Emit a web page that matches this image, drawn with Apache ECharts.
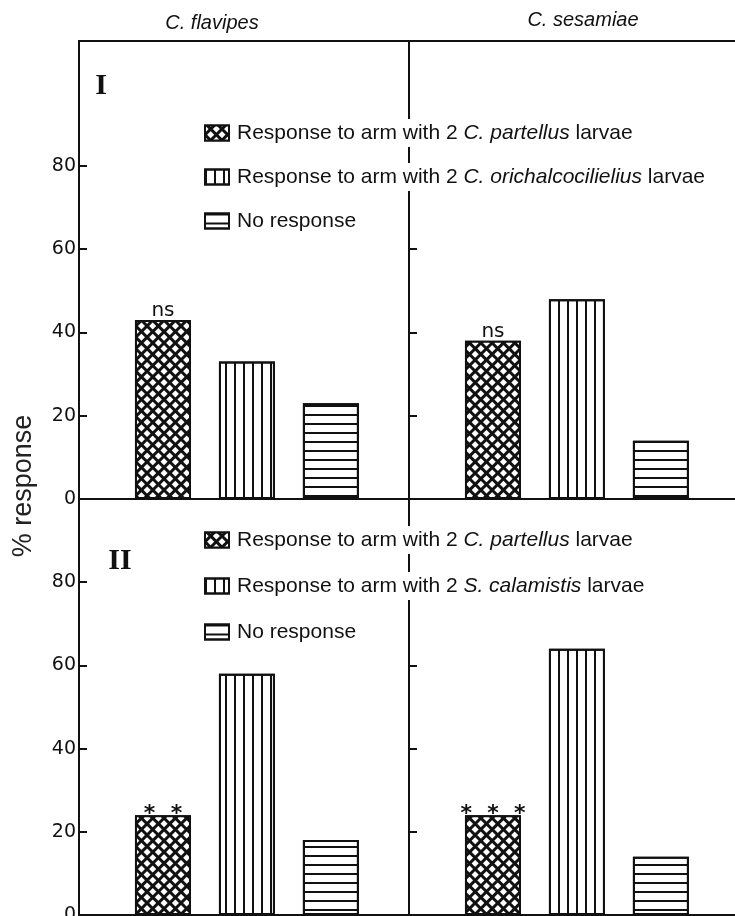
<!DOCTYPE html>
<html>
<head>
<meta charset="utf-8">
<script src="https://cdn.jsdelivr.net/npm/echarts@6/dist/echarts.min.js"></script>
<style>
  html, body { margin: 0; padding: 0; background: #fff; }
  #chart { width: 735px; height: 916px; }
</style>
</head>
<body>
<div id="chart"></div>
<script>
// Parasitoid species (columns) and olfactometer experiments (rows)
const parasitoids = ['C. flavipes', 'C. sesamiae'];
const experiments = ['I', 'II'];

// Bar slot along each panel's horizontal axis
const barSlots = [1, 2, 3];

// % response, indexed [experiment][parasitoid]
const partellusPct   = [[43, 38], [24, 24]];
const alternativePct = [[33, 48], [58, 64]];
const noResponsePct  = [[23, 14], [18, 14]];

// Significance marks drawn above the C. partellus bars
const significance = [['ns', 'ns'], ['*  *', '*  *  *']];

// Legend entries
const namePartellus = 'Response to arm with 2 C. partellus larvae';
const nameAlternative = [
  'Response to arm with 2 C. orichalcocilielius larvae',
  'Response to arm with 2 S. calamistis larvae'
];
const nameNone = 'No response';

// Value axis ticks and ranges per experiment
const yTicks = [0, 20, 40, 60, 80];
const yMax = [110, 100];

const INK = '#111';
const SANS = '"Liberation Sans", Arial, sans-serif';

// Fill patterns
const crossHatch = {
  symbol: 'rect', symbolSize: 1, color: '#fff',
  dashArrayX: [4.6, 2.4], dashArrayY: [4.6, 2.4], rotation: Math.PI / 4
};
const verticalLines = {
  symbol: 'rect', symbolSize: 1, color: INK,
  dashArrayX: [1.6, 6.4], dashArrayY: [8, 0], rotation: 0
};
const horizontalLines = {
  symbol: 'rect', symbolSize: 1, color: INK,
  dashArrayX: [8, 0], dashArrayY: [1.6, 6.1], rotation: 0
};

const panelTop = [41, 499];
const panelHeight = [458, 416];
const panelLeft = [79, 409];
const panelWidth = 330;

const grids = [], xAxes = [], yAxes = [], series = [];

experiments.forEach((exp, r) => {
  parasitoids.forEach((sp, c) => {
    const g = grids.length;
    grids.push({
      left: panelLeft[c], top: panelTop[r], width: panelWidth, height: panelHeight[r],
      outerBoundsMode: 'none', containLabel: false,
      show: true, borderColor: INK, borderWidth: 2, backgroundColor: 'transparent'
    });
    xAxes.push({ gridIndex: g, type: 'value', min: 0, max: 3.93, show: false });
    yAxes.push({
      gridIndex: g, type: 'value', min: 0, max: yMax[r], interval: 20,
      axisLine: { show: false },
      splitLine: { show: false },
      axisTick: {
        show: true, inside: true, length: 8, customValues: yTicks,
        lineStyle: { color: INK, width: 2 }
      },
      axisLabel: {
        show: c === 0, customValues: yTicks, margin: 3,
        color: INK, fontSize: 19, fontFamily: '"DejaVu Sans", sans-serif'
      }
    });
    const common = {
      type: 'bar', xAxisIndex: g, yAxisIndex: g, barWidth: 56, barGap: '-100%'
    };
    series.push(Object.assign({}, common, {
      name: namePartellus,
      itemStyle: { color: INK, borderColor: INK, borderWidth: 2, decal: crossHatch },
      label: {
        show: true, position: 'top', distance: r === 0 ? -1 : -10,
        formatter: significance[r][c], color: INK,
        fontSize: r === 0 ? 20 : 22, fontWeight: r === 0 ? 'normal' : 'bold',
        fontFamily: '"DejaVu Sans", sans-serif'
      },
      data: [[barSlots[0], partellusPct[r][c]]]
    }));
    series.push(Object.assign({}, common, {
      name: nameAlternative[r],
      itemStyle: { color: '#fff', borderColor: INK, borderWidth: 2, decal: verticalLines },
      data: [[barSlots[1], alternativePct[r][c]]]
    }));
    series.push(Object.assign({}, common, {
      name: nameNone,
      itemStyle: { color: '#fff', borderColor: INK, borderWidth: 2, decal: horizontalLines },
      data: [[barSlots[2], noResponsePct[r][c]]]
    }));
  });
});

// Italicise the species names inside legend text
function legendLabel(name) {
  return name.replace(/(C\. partellus|C\. orichalcocilielius|S\. calamistis)/, '{i|$1}');
}
const legendText = {
  color: INK, fontSize: 21, fontFamily: SANS, lineHeight: 22,
  backgroundColor: '#fff', padding: [3, 4, 3, 3],
  rich: { i: { fontStyle: 'italic', color: INK, fontSize: 21, fontFamily: SANS, lineHeight: 22 } }
};
const legendRows = [
  { top: 119, gap: 16 },
  { top: 526, gap: 18 }
];
const legends = experiments.map((exp, r) => ({
  orient: 'vertical', left: 204, top: legendRows[r].top, padding: 0,
  itemGap: legendRows[r].gap, itemWidth: 24, itemHeight: 15, icon: 'rect',
  selectedMode: false,
  data: [namePartellus, nameAlternative[r], nameNone],
  formatter: legendLabel,
  textStyle: legendText
}));

const chart = echarts.init(document.getElementById('chart'), null, { renderer: 'canvas' });
chart.setOption({
  animation: false,
  backgroundColor: '#fff',
  grid: grids,
  xAxis: xAxes,
  yAxis: yAxes,
  legend: legends,
  series: series,
  graphic: [
    { type: 'text', x: 212, y: 23, style: { text: parasitoids[0], font: 'italic 20px ' + SANS, fill: INK, align: 'center', verticalAlign: 'middle' } },
    { type: 'text', x: 583, y: 20, style: { text: parasitoids[1], font: 'italic 20px ' + SANS, fill: INK, align: 'center', verticalAlign: 'middle' } },
    { type: 'text', x: 101, y: 86, style: { text: experiments[0], font: 'bold 30px "Liberation Serif", serif', fill: INK, align: 'center', verticalAlign: 'middle' } },
    { type: 'text', x: 120, y: 561, style: { text: experiments[1], font: 'bold 30px "Liberation Serif", serif', fill: INK, align: 'center', verticalAlign: 'middle' } },
    { type: 'text', x: 24, y: 486, rotation: Math.PI / 2, style: { text: '% response', font: '27px ' + SANS, fill: '#222', align: 'center', verticalAlign: 'middle' } }
  ]
});
</script>
</body>
</html>
